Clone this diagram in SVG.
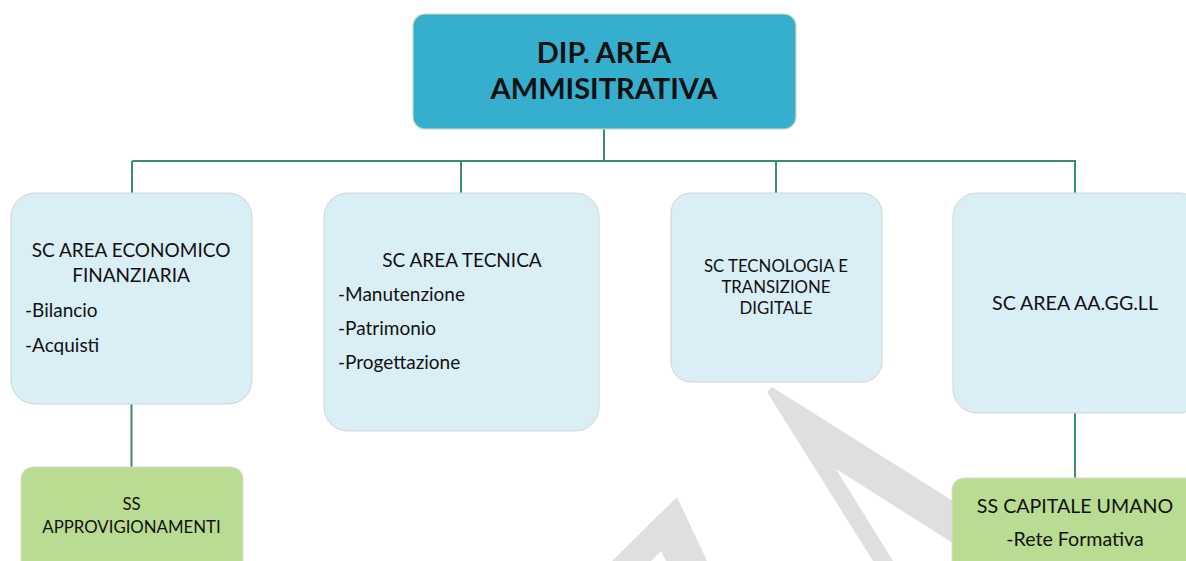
<svg xmlns="http://www.w3.org/2000/svg" width="1186" height="561" viewBox="0 0 1186 561">
<style>
.wm{fill:#dfdfdf;stroke:none}
.top{fill:#36aece;stroke:#d3dcb2;stroke-width:1.2}
.sc{fill:#d9eef5;stroke:#cfd4d6;stroke-width:1}
.ss{fill:#badb92;stroke:#d6dccd;stroke-width:1}
.conn{stroke:#3a8c76;stroke-width:2;fill:none}
text{font-family:Lato,"Open Sans","Liberation Sans",sans-serif;fill:#111}
.t{font-weight:bold;font-size:29px;text-anchor:middle}
.l{font-size:19px}
.m{font-size:19.6px}
.c{text-anchor:middle}
.s{font-size:16.8px}
</style>
<rect width="1186" height="561" fill="#ffffff"/>
<g id="watermark">
<polygon class="wm" points="767,392 772,387 980,518 980,561 956,545 836,469 893,561 873,561"/>
<polygon class="wm" points="612,561 677,497 707,561 666,561 661,551 651,561"/>
</g>
<g id="connectors">
<path class="conn" d="M604,129 V161 M132,161 H1076 M132,161 V193 M461,161 V193 M776,161 V193 M1075,161 V193"/>
<path class="conn" d="M131.5,404 V467"/>
<path class="conn" d="M1075,413 V478"/>
</g>
<g id="node-dip">
<rect class="top" x="413" y="14" width="383" height="115" rx="12"/>
<text class="t" x="604" y="63">DIP. AREA</text>
<text class="t" x="604" y="99">AMMISITRATIVA</text>
</g>
<g id="node-economico">
<rect class="sc" x="11" y="193" width="241" height="211" rx="24"/>
<text class="l c" x="131" y="257">SC AREA ECONOMICO</text>
<text class="l c" x="131" y="282">FINANZIARIA</text>
<text class="l" x="25" y="317">-Bilancio</text>
<text class="l" x="25" y="352">-Acquisti</text>
</g>
<g id="node-tecnica">
<rect class="sc" x="324" y="193" width="275" height="238" rx="24"/>
<text class="l c" x="462" y="267">SC AREA TECNICA</text>
<text class="l" x="338" y="301">-Manutenzione</text>
<text class="l" x="338" y="335">-Patrimonio</text>
<text class="l" x="338" y="369">-Progettazione</text>
</g>
<g id="node-tecnologia">
<rect class="sc" x="671" y="193" width="211" height="189" rx="20"/>
<text class="s c" x="776" y="272">SC TECNOLOGIA E</text>
<text class="s c" x="776" y="293">TRANSIZIONE</text>
<text class="s c" x="776" y="314">DIGITALE</text>
</g>
<g id="node-aagg">
<rect class="sc" x="953" y="193" width="250" height="220" rx="24"/>
<text class="m c" x="1075" y="310">SC AREA AA.GG.LL</text>
</g>
<g id="node-approvvigionamenti">
<rect class="ss" x="21" y="467" width="222" height="110" rx="12"/>
<text class="s c" x="131.5" y="510">SS</text>
<text class="s c" x="131.5" y="533">APPROVIGIONAMENTI</text>
</g>
<g id="node-capitale">
<rect class="ss" x="952" y="478" width="250" height="100" rx="12"/>
<text class="m c" x="1075" y="513">SS CAPITALE UMANO</text>
<text class="m c" x="1075" y="546">-Rete Formativa</text>
</g>
</svg>
